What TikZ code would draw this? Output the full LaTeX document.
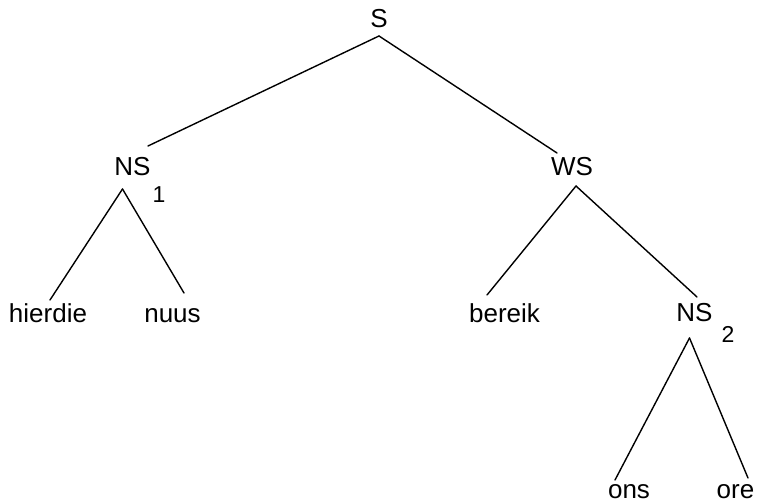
\documentclass[tikz,border=0pt]{standalone}
\usepackage{fontspec}
\setmainfont{Liberation Sans}
\begin{document}
\begin{tikzpicture}[x=1pt,y=1pt,
  lbl/.style={anchor=base,inner sep=0pt,font=\fontsize{26}{30}\selectfont},
  sub/.style={anchor=base,inner sep=0pt,font=\fontsize{23}{27}\selectfont},
  edge/.style={draw=black,line width=1.4pt,line cap=round}]
\useasboundingbox (0,0) rectangle (758,503);
% nodes (base positions, y = 503 - pixel baseline)
\node[lbl] (S) at (379,475) {S};
\node[lbl] (NSa) at (132.5,327) {NS};
\node[sub] (one) at (159,300) {1};
\node[lbl] (WS) at (572,327) {WS};
\node[lbl] (hierdie) at (48,180) {hierdie};
\node[lbl] (nuus) at (172.5,180) {nuus};
\node[lbl] (bereik) at (504.5,180) {bereik};
\node[lbl] (NSb) at (694.5,181) {NS};
\node[sub] (two) at (728,160) {2};
\node[lbl] (ons) at (629,4) {ons};
\node[lbl] (ore) at (735.5,4) {ore};
% connectors
\draw[edge] ([yshift=-8]S.base) -- ([shift={(15.5,30)}]NSa.base);
\draw[edge] ([yshift=-8]S.base) -- ([shift={(-15,23)}]WS.base);
\draw[edge] ([shift={(-10,-13)}]NSa.base) -- ([shift={(2,23)}]hierdie.base);
\draw[edge] ([shift={(-10,-13)}]NSa.base) -- ([shift={(11.5,30)}]nuus.base);
\draw[edge] ([shift={(4,-10)}]WS.base) -- ([shift={(-17.5,28)}]bereik.base);
\draw[edge] ([shift={(4,-10)}]WS.base) -- ([shift={(2.5,25)}]NSb.base);
\draw[edge] ([shift={(-5,-16)}]NSb.base) -- ([shift={(-14,19)}]ons.base);
\draw[edge] ([shift={(-5,-16)}]NSb.base) -- ([shift={(12.5,21)}]ore.base);
\end{tikzpicture}
\end{document}
